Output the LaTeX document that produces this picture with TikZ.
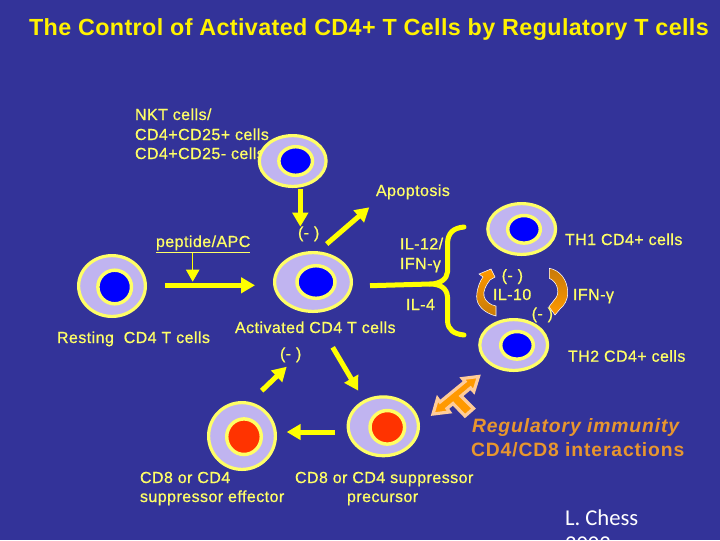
\documentclass[tikz,border=0pt]{standalone}
\usepackage{fontspec}
\setmainfont{Liberation Sans}
\newfontfamily\fbold{Liberation Sans}[FakeBold=0.7,LetterSpace=2.8]
\newfontfamily\ftitle{Liberation Sans Bold}[LetterSpace=1.6]
\newfontfamily\freg{Liberation Sans}[LetterSpace=4.5]
\newfontfamily\calib{Carlito}
\usetikzlibrary{shapes.geometric,arrows.meta}
\definecolor{bg}{HTML}{333399}
\definecolor{ringy}{HTML}{FFFF66}
\definecolor{lilac}{HTML}{C0B4F0}
\definecolor{arrowy}{HTML}{FFFF00}
\definecolor{orng}{HTML}{FF9900}
\definecolor{brwn}{HTML}{C87A08}
\definecolor{peach}{HTML}{FFCC99}
\definecolor{regt}{HTML}{E8962E}
\definecolor{nucred}{HTML}{FF3300}
\tikzset{
  x=0.75pt,y=-0.75pt,
  txt/.style={anchor=base west,inner sep=0pt,outer sep=0pt,text=ringy,font=\fbold\fontsize{12pt}{14pt}\selectfont},
  title/.style={txt,text=yellow,font=\ftitle\fontsize{17.5pt}{20pt}\selectfont},
  reg/.style={txt,text=regt,font=\freg\bfseries\fontsize{14.5pt}{16pt}\selectfont},
  thick arrow/.style={draw=arrowy,line width=3.75pt,-{Triangle[width=11.5pt,length=10.5pt]}},
  thin arrow/.style={draw=arrowy,line width=0.9pt,-{Triangle[width=10pt,length=9pt]}},
  brace/.style={draw=arrowy,line width=3.75pt,line cap=round,line join=round},
  cellbody/.style={ellipse,draw=ringy,fill=lilac,line width=2.4pt,inner sep=0pt,outer sep=0pt},
  cellring/.style={ellipse,draw=ringy,line width=2.6pt,inner sep=0pt,outer sep=0pt},
  curved/.style={draw=white,line width=0.4pt},
}
\newcommand{\cell}[8]{%
  \node[cellbody,minimum width={1.5*(#3-1.6)*1pt},minimum height={1.5*(#4-1.6)*1pt}] (#1) at (#2) {};
  \node[cellring,fill=#8,minimum width={1.5*(#6+2.3)*1pt},minimum height={1.5*(#7+2.3)*1pt}] (#1-n) at (#5) {};
}
\begin{document}
\begin{tikzpicture}
\useasboundingbox (0,0) rectangle (720,540);
\clip (0,0) rectangle (720,540);
\fill[bg] (0,0) rectangle (720,540);

\node[title] (title) at (29,35) {The Control of Activated CD4+ T Cells by Regulatory T cells};
\node[txt] (t1) at (135,120) {NKT cells/};
\node[txt] (t2) at (135,140) {CD4+CD25+ cells};
\node[txt] (t3) at (135,159) {CD4+CD25- cells};
\node[txt] (apo) at (376,196) {Apoptosis};
\node[txt] (m1) at (298,238) {(- )};
\node[txt] (pep) at (156,247) {\underline{peptide/APC}};
\node[txt] (il12) at (400,249.3) {IL-12/};
\node[txt] (ifn1) at (400,269) {IFN-γ};
\node[txt] (il4) at (406,310) {IL-4};
\node[txt] (lth1) at (565,245) {TH1 CD4+ cells};
\node[txt] (m2) at (501.7,280.7) {(- )};
\node[txt] (il10) at (493,300) {IL-10};
\node[txt] (ifn2) at (573,300) {IFN-γ};
\node[txt] (m3) at (531.7,319) {(- )};
\node[txt] (lth2) at (568,361.7) {TH2 CD4+ cells};
\node[txt] (lrest) at (57,343) {Resting\ \ CD4 T cells};
\node[txt] (lact) at (235,333) {Activated CD4 T cells};
\node[txt] (m4) at (280,359) {(- )};
\node[reg,font=\freg\bfseries\itshape\fontsize{14.5pt}{16pt}\selectfont] (r1) at (472,432) {Regulatory immunity};
\node[reg] (r2) at (471,456) {CD4/CD8 interactions};
\node[txt] (s1) at (140,483) {CD8 or CD4};
\node[txt] (s2) at (140,502) {suppressor effector};
\node[txt] (p1) at (295,483) {CD8 or CD4 suppressor};
\node[txt] (p2) at (347,502) {precursor};
\node[txt,text=white,font=\calib\fontsize{17pt}{20pt}\selectfont] (chess) at (565,525) {L. Chess};
\node[txt,text=white,font=\calib\fontsize{17pt}{20pt}\selectfont] (yr) at (565,551) {2002};

\cell{nkt}{292.7,161}{35}{27}{295.7,161}{14.5}{12}{blue}
\cell{act}{313,282}{40}{31}{316,282}{16.7}{14}{blue}
\cell{rest}{112,286}{35}{32}{114.7,287}{14.5}{14.5}{blue}
\cell{th1}{521.7,229}{35.5}{27}{524,229.3}{14}{11.5}{blue}
\cell{th2}{513.7,345}{35.5}{27}{517,345.3}{14}{11.5}{blue}
\cell{pre}{383.3,426.3}{36.7}{31}{387.3,427.3}{15}{14.5}{nucred}
\cell{eff}{242,436}{35}{35}{244,436.7}{15}{15.5}{nucred}

% connector ends
\coordinate (a1s) at (300.3,188.7); \coordinate (a1e) at (300.3,226.7);
\coordinate (a2s) at (326.7,244);   \coordinate (a2e) at (369.3,207.3);
\coordinate (a3s) at (192.7,253);   \coordinate (a3e) at (192.7,281.7);
\coordinate (a4s) at (165,285.3);   \coordinate (a4e) at (255,285.3);
\coordinate (a5s) at (332.7,347.3); \coordinate (a5e) at (358.3,390.7);
\coordinate (a6s) at (335,432);     \coordinate (a6e) at (286.7,432);
\coordinate (a7s) at (261.7,390.7); \coordinate (a7e) at (286.7,366.7);
\draw[thick arrow] (a1s) -- (a1e);
\draw[thick arrow] (a2s) -- (a2e);
\draw[thin arrow] (a3s) -- (a3e);
\draw[thick arrow] (a4s) -- (a4e);
\draw[thick arrow] (a5s) -- (a5e);
\draw[thick arrow] (a6s) -- (a6e);
\draw[thick arrow] (a7s) -- (a7e);

% fork
\coordinate (fk) at (430,284);
\coordinate (fks) at (370,285.7);
\draw[brace,line cap=butt] (fks) -- (fk);
\draw[brace] (464,227) .. controls (453,228) and (448,233) .. (447.5,243) -- (447.5,272) .. controls (447,279) and (440,284) .. (fk)
   .. controls (440,284) and (447,288) .. (447.5,297) -- (447.5,321) .. controls (448,330) and (454,334) .. (464,335);

% curved arrows
\path[curved,top color=orng,bottom color=brwn,draw=white]
  (496,316) .. controls (484,313) and (476,305) .. (476.7,296) .. controls (477,288) and (480,281) .. (483,277)
  -- (479,274) -- (491,269) -- (495,277) -- (490,280) .. controls (486,285) and (483,291) .. (484,296) .. controls (485,301) and (490,305) .. (496,306) -- cycle;
\path[curved,top color=brwn,bottom color=orng,draw=white]
  (549.3,268.3) .. controls (560,270) and (567.5,280) .. (567.7,292) .. controls (568,300) and (564,306) .. (560,309)
  -- (555,315) -- (549,306.7) -- (556.5,297) .. controls (560,290) and (556,281) .. (549.3,278.3) -- cycle;

% regulatory T-arrow
\path[draw=peach,fill=orng,line width=2.4pt,line join=miter,miter limit=4]
  (433,414) -- (449.5,412) -- (447,408.5) -- (453,403.5) -- (465,416) -- (473.5,408.5) -- (461,396)
  -- (470.5,388) -- (473.8,391.5) -- (478.5,376.5) -- (462.5,378.5) -- (465,381.5) -- (440,402) -- (437.5,398.5) -- cycle;
\end{tikzpicture}
\end{document}
